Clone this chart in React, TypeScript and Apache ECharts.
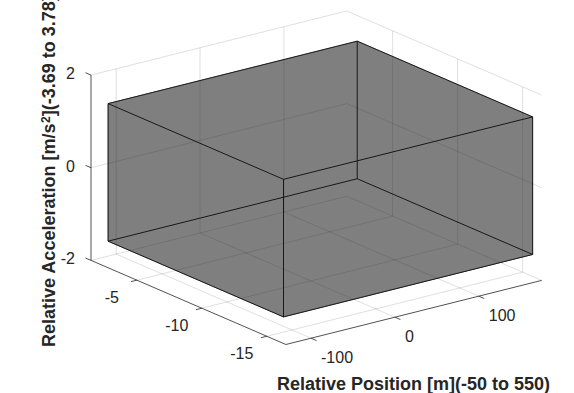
import React, { useEffect, useRef } from "react";
import * as echarts from "echarts";

// ---- data ----
const xTicks = [-100, 0, 100];
const yTicks = [-15, -10, -5];
const zTicks = [-2, 0, 2];
const xLimits = [-130, 175];
const yLimits = [-16.47, -1.47];
const zLimits = [-2, 2];
const boxX = [-124, 173];
const boxY = [-15.9, -2.4];
const boxZ = [-1.5, 1.47];
const xTitle = "Relative Position [m](-50 to 550)";
const zTitleParts = ["Relative Acceleration [m/s", "2", "](-3.69 to 3.78)"];

// ---- view (like MATLAB view(az, el)) ----
const VIEW_AZ = -37.3;
const VIEW_EL = 19.2;
const BOX_ASPECT = [1, 1, 0.61];
const FONT = '"Liberation Sans", Arial, Helvetica, sans-serif';
const INK = "#262626";

const deg = Math.PI / 180;
function project(p: number[]): number[] {
  const az = VIEW_AZ * deg;
  const el = VIEW_EL * deg;
  const u = ((p[0] - (xLimits[0] + xLimits[1]) / 2) / (xLimits[1] - xLimits[0])) * BOX_ASPECT[0];
  const v = ((p[1] - (yLimits[0] + yLimits[1]) / 2) / (yLimits[1] - yLimits[0])) * BOX_ASPECT[1];
  const w = ((p[2] - (zLimits[0] + zLimits[1]) / 2) / (zLimits[1] - zLimits[0])) * BOX_ASPECT[2];
  const sx = u * Math.cos(az) + v * Math.sin(az);
  const sy = -u * Math.sin(el) * Math.sin(az) + v * Math.sin(el) * Math.cos(az) + w * Math.cos(el);
  return [sx, sy];
}

function limitCorners(): number[][] {
  const out: number[][] = [];
  for (const x of xLimits) for (const y of yLimits) for (const z of zLimits) out.push(project([x, y, z]));
  return out;
}

export default function App() {
  const ref = useRef<HTMLDivElement>(null);
  useEffect(() => {
    document.body.style.margin = "0";
    const chart = echarts.init(ref.current!, null, { renderer: "svg" });

    const pc = limitCorners();
    const sxMin = Math.min(...pc.map((p) => p[0]));
    const sxMax = Math.max(...pc.map((p) => p[0]));
    const syMin = Math.min(...pc.map((p) => p[1]));
    const syMax = Math.max(...pc.map((p) => p[1]));

    // grid lines on the three back planes
    const gridSegs: number[][] = [];
    xTicks.forEach((t) => {
      gridSegs.push([t, yLimits[0], zLimits[0], t, yLimits[1], zLimits[0]]);
      gridSegs.push([t, yLimits[1], zLimits[0], t, yLimits[1], zLimits[1]]);
    });
    yTicks.forEach((t) => {
      gridSegs.push([xLimits[0], t, zLimits[0], xLimits[1], t, zLimits[0]]);
      gridSegs.push([xLimits[1], t, zLimits[0], xLimits[1], t, zLimits[1]]);
    });
    zTicks.forEach((t) => {
      gridSegs.push([xLimits[0], yLimits[1], t, xLimits[1], yLimits[1], t]);
      gridSegs.push([xLimits[1], yLimits[0], t, xLimits[1], yLimits[1], t]);
    });

    // axis lines
    const axisSegs: number[][] = [
      [xLimits[0], yLimits[0], zLimits[0], xLimits[1], yLimits[0], zLimits[0]],
      [xLimits[0], yLimits[0], zLimits[0], xLimits[0], yLimits[1], zLimits[0]],
      [xLimits[0], yLimits[1], zLimits[0], xLimits[0], yLimits[1], zLimits[1]],
    ];

    // box edges
    const edgeSegs: number[][] = [];
    for (let j = 0; j < 2; j++)
      for (let k = 0; k < 2; k++) edgeSegs.push([boxX[0], boxY[j], boxZ[k], boxX[1], boxY[j], boxZ[k]]);
    for (let i = 0; i < 2; i++)
      for (let k = 0; k < 2; k++) edgeSegs.push([boxX[i], boxY[0], boxZ[k], boxX[i], boxY[1], boxZ[k]]);
    for (let i = 0; i < 2; i++)
      for (let j = 0; j < 2; j++) edgeSegs.push([boxX[i], boxY[j], boxZ[0], boxX[i], boxY[j], boxZ[1]]);

    // box faces: [axis, side]
    const faces: number[][] = [];
    for (let a = 0; a < 3; a++) for (let s = 0; s < 2; s++) faces.push([a, s]);

    // ticks: [axis, value]
    const ticks: number[][] = [
      ...xTicks.map((t) => [0, t]),
      ...yTicks.map((t) => [1, t]),
      ...zTicks.map((t) => [2, t]),
    ];

    const segRender = (stroke: string, lineWidth: number) => (params: any, api: any) => {
      const p1 = api.coord(project([api.value(0), api.value(1), api.value(2)]));
      const p2 = api.coord(project([api.value(3), api.value(4), api.value(5)]));
      return {
        type: "line",
        shape: { x1: p1[0], y1: p1[1], x2: p2[0], y2: p2[1] },
        style: { stroke, lineWidth, fill: null },
      };
    };

    const faceRender = (params: any, api: any) => {
      const a = api.value(0);
      const s = api.value(1);
      const lims = [boxX, boxY, boxZ];
      const others = [0, 1, 2].filter((d) => d !== a);
      const combos = [
        [0, 0],
        [1, 0],
        [1, 1],
        [0, 1],
      ];
      const pts = combos.map(([i, j]) => {
        const p = [0, 0, 0];
        p[a] = lims[a][s];
        p[others[0]] = lims[others[0]][i];
        p[others[1]] = lims[others[1]][j];
        return api.coord(project(p));
      });
      return {
        type: "polygon",
        shape: { points: pts },
        style: { fill: "#7f7f7f", stroke: "#7f7f7f", lineWidth: 0.5 },
      };
    };

    const tickRender = (params: any, api: any) => {
      const ax = api.value(0);
      const t = api.value(1);
      let pt: number[];
      let outer: number[];
      if (ax === 0) {
        pt = [t, yLimits[0], zLimits[0]];
        outer = [t, yLimits[0] - (yLimits[1] - yLimits[0]), zLimits[0]];
      } else if (ax === 1) {
        pt = [xLimits[0], t, zLimits[0]];
        outer = [xLimits[0] - (xLimits[1] - xLimits[0]), t, zLimits[0]];
      } else {
        pt = [xLimits[0], yLimits[1], t];
        outer = [xLimits[0], yLimits[1] + (yLimits[1] - yLimits[0]), t];
      }
      const p = api.coord(project(pt));
      const q = api.coord(project(outer));
      const dx = q[0] - p[0];
      const dy = q[1] - p[1];
      const len = Math.sqrt(dx * dx + dy * dy) || 1;
      const L = 6;
      const tip = [p[0] + (dx / len) * L, p[1] + (dy / len) * L];
      let lx: number, ly: number, align: string;
      if (ax === 0) {
        lx = p[0] + 10;
        ly = p[1] + 19.5;
        align = "left";
      } else if (ax === 1) {
        lx = p[0] - 25;
        ly = p[1] + 17;
        align = "center";
      } else {
        lx = p[0] - 16;
        ly = p[1] - 1.5;
        align = "right";
      }
      return {
        type: "group",
        children: [
          {
            type: "line",
            shape: { x1: p[0], y1: p[1], x2: tip[0], y2: tip[1] },
            style: { stroke: INK, lineWidth: 0.8 },
          },
          {
            type: "text",
            x: lx,
            y: ly,
            style: {
              text: String(t),
              fill: INK,
              fontSize: 16,
              fontFamily: FONT,
              align,
              verticalAlign: "middle",
              textAlign: align,
              textVerticalAlign: "middle",
            },
          },
        ],
      };
    };

    const option: any = {
      animation: false,
      backgroundColor: "#ffffff",
      grid: { left: 91, top: 11, width: 450.7, height: 333.5, containLabel: false },
      xAxis: { type: "value", min: sxMin, max: sxMax, show: false },
      yAxis: { type: "value", min: syMin, max: syMax, show: false },
      tooltip: { show: false },
      series: [
        {
          type: "custom",
          name: "faces",
          coordinateSystem: "cartesian2d",
          clip: false,
          z: 1,
          silent: true,
          data: faces,
          renderItem: faceRender,
        },
        {
          type: "custom",
          name: "grid",
          coordinateSystem: "cartesian2d",
          clip: false,
          z: 2,
          silent: true,
          data: gridSegs,
          renderItem: segRender("rgba(38,38,38,0.15)", 1),
        },
        {
          type: "custom",
          name: "edges",
          coordinateSystem: "cartesian2d",
          clip: false,
          z: 3,
          silent: true,
          data: edgeSegs,
          renderItem: segRender("#0d0d0d", 0.9),
        },
        {
          type: "custom",
          name: "axes",
          coordinateSystem: "cartesian2d",
          clip: false,
          z: 3,
          silent: true,
          data: axisSegs,
          renderItem: segRender(INK, 0.8),
        },
        {
          type: "custom",
          name: "ticks",
          coordinateSystem: "cartesian2d",
          clip: false,
          z: 4,
          silent: true,
          data: ticks,
          renderItem: tickRender,
        },
      ],
      graphic: [
        {
          type: "text",
          x: 413.5,
          y: 384,
          style: {
            text: xTitle,
            fill: INK,
            fontSize: 18,
            fontWeight: "bold",
            fontFamily: FONT,
            align: "center",
            verticalAlign: "middle",
            textAlign: "center",
            textVerticalAlign: "middle",
          },
        },
        {
          type: "text",
          x: 48.5,
          y: 347,
          rotation: Math.PI / 2,
          style: {
            text: `{a|${zTitleParts[0]}}{s|${zTitleParts[1]}}{a|${zTitleParts[2]}}`,
            rich: {
              a: { fontSize: 18, fontWeight: "bold", fontFamily: FONT, fill: INK, verticalAlign: "bottom" },
              s: { fontSize: 12, fontWeight: "bold", fontFamily: FONT, fill: INK, verticalAlign: "top" },
            },
            align: "left",
            verticalAlign: "middle",
            textAlign: "left",
            textVerticalAlign: "middle",
          },
        },
      ],
    };
    chart.setOption(option);
    return () => chart.dispose();
  }, []);
  return <div ref={ref} style={{ width: 574, height: 393, position: "absolute", left: 0, top: 0 }} />;
}
